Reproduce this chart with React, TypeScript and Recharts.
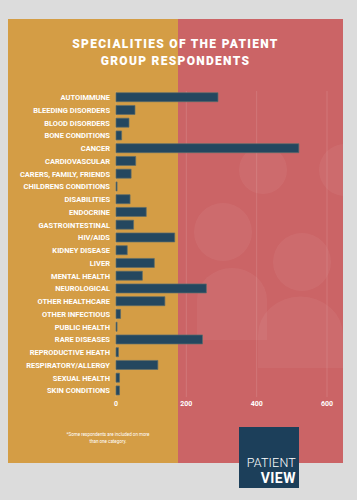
import { BarChart, Bar, XAxis, YAxis, CartesianGrid } from "recharts";

const categories = [
  "AUTOIMMUNE",
  "BLEEDING DISORDERS",
  "BLOOD DISORDERS",
  "BONE CONDITIONS",
  "CANCER",
  "CARDIOVASCULAR",
  "CARERS, FAMILY, FRIENDS",
  "CHILDRENS CONDITIONS",
  "DISABILITIES",
  "ENDOCRINE",
  "GASTROINTESTINAL",
  "HIV/AIDS",
  "KIDNEY DISEASE",
  "LIVER",
  "MENTAL HEALTH",
  "NEUROLOGICAL",
  "OTHER HEALTHCARE",
  "OTHER INFECTIOUS",
  "PUBLIC HEALTH",
  "RARE DISEASES",
  "REPRODUCTIVE HEATH",
  "RESPIRATORY/ALLERGY",
  "SEXUAL HEALTH",
  "SKIN CONDITIONS",
];

const respondents = [
  290, 54, 37, 16, 520, 56, 43, 3, 40, 86, 50, 167, 32, 109, 75, 257, 139, 13, 3, 246, 7, 119, 10, 10,
];

const xTicks = [0, 200, 400, 600];

const data = categories.map((name, i) => ({ name, value: respondents[i] }));

const ORANGE = "#d49d45";
const RED = "#cb6466";
const NAVY = "#24475f";
const FONT = "Roboto, 'DejaVu Sans', sans-serif";

function Decoration() {
  const fill = "rgba(255,255,255,0.05)";
  return (
    <svg width={165} height={444} style={{ position: "absolute", left: 178, top: 19 }}>
      <g transform="translate(-178,-19)">
        <circle cx={263} cy={170} r={24} fill={fill} />
        <circle cx={345} cy={170} r={26} fill={fill} />
        <circle cx={223} cy={232} r={29} fill={fill} />
        <circle cx={302} cy={262} r={29} fill={fill} />
        <path d="M197,340 L197,300 A35,32 0 0 1 267,300 L267,340 Z" fill={fill} />
        <path d="M258,368 L258,335 A42,38 0 0 1 343,335 L343,368 Z" fill={fill} />
      </g>
    </svg>
  );
}

function CategoryTick({ x, y, payload }: any) {
  return (
    <text
      x={x}
      y={y}
      dy={2.7}
      textAnchor="end"
      fill="#fff"
      fontSize={7.5}
      fontWeight={700}
      fontFamily={FONT}
    >
      {payload.value}
    </text>
  );
}

export default function App() {
  return (
    <div
      style={{
        position: "absolute",
        left: 0,
        top: 0,
        width: 357,
        height: 500,
        background: "#dcdcdc",
        overflow: "hidden",
        fontFamily: FONT,
      }}
    >
      <div style={{ position: "absolute", left: 8, top: 19, width: 170, height: 444, background: ORANGE }} />
      <div style={{ position: "absolute", left: 178, top: 19, width: 165, height: 444, background: RED }} />
      <Decoration />

      <div
        style={{
          position: "absolute",
          left: 8,
          top: 36,
          width: 335,
          textAlign: "center",
          color: "#fff",
          fontWeight: 900,
          fontSize: 12,
          letterSpacing: 1.3,
          lineHeight: "17px",
        }}
      >
        SPECIALITIES OF THE PATIENT
        <br />
        GROUP RESPONDENTS
      </div>

      <div style={{ position: "absolute", left: 0, top: 0 }}>
        <BarChart
          width={357}
          height={500}
          data={data}
          layout="vertical"
          margin={{ top: 91, right: 30, bottom: 83, left: 6 }}
          barCategoryGap={1.7}
        >
          <CartesianGrid horizontal={false} stroke="rgba(255,255,255,0.12)" />
          <XAxis
            type="number"
            domain={[0, 600]}
            ticks={xTicks}
            axisLine={false}
            tickLine={false}
            tickSize={0}
            tickMargin={4}
            height={20}
            tick={{ fill: "#fff", fontSize: 7, fontWeight: 700, fontFamily: FONT }}
          />
          <YAxis
            type="category"
            dataKey="name"
            width={110}
            axisLine={false}
            tickLine={false}
            tickSize={0}
            tickMargin={6}
            interval={0}
            tick={<CategoryTick />}
          />
          <Bar dataKey="value" fill={NAVY} stroke="#5d6d6c" strokeWidth={0.7} isAnimationActive={false} />
        </BarChart>
      </div>

      <div
        style={{
          position: "absolute",
          left: 40,
          top: 432,
          width: 136,
          textAlign: "center",
          color: "#fff",
          fontSize: 4.5,
          lineHeight: "6.5px",
        }}
      >
        *Some respondents are included on more
        <br />
        than one category.
      </div>

      <div
        style={{
          position: "absolute",
          left: 239,
          top: 427,
          width: 60,
          height: 61,
          background: "#1c3f5a",
          color: "#fff",
          textAlign: "right",
        }}
      >
        <div style={{ position: "absolute", right: 3, top: 28, fontSize: 12.5, fontWeight: 300, letterSpacing: 0.2 }}>
          PATIENT
        </div>
        <div style={{ position: "absolute", right: 3, top: 43, fontSize: 14, fontWeight: 700, letterSpacing: 0.5 }}>
          VIEW
        </div>
      </div>
    </div>
  );
}
